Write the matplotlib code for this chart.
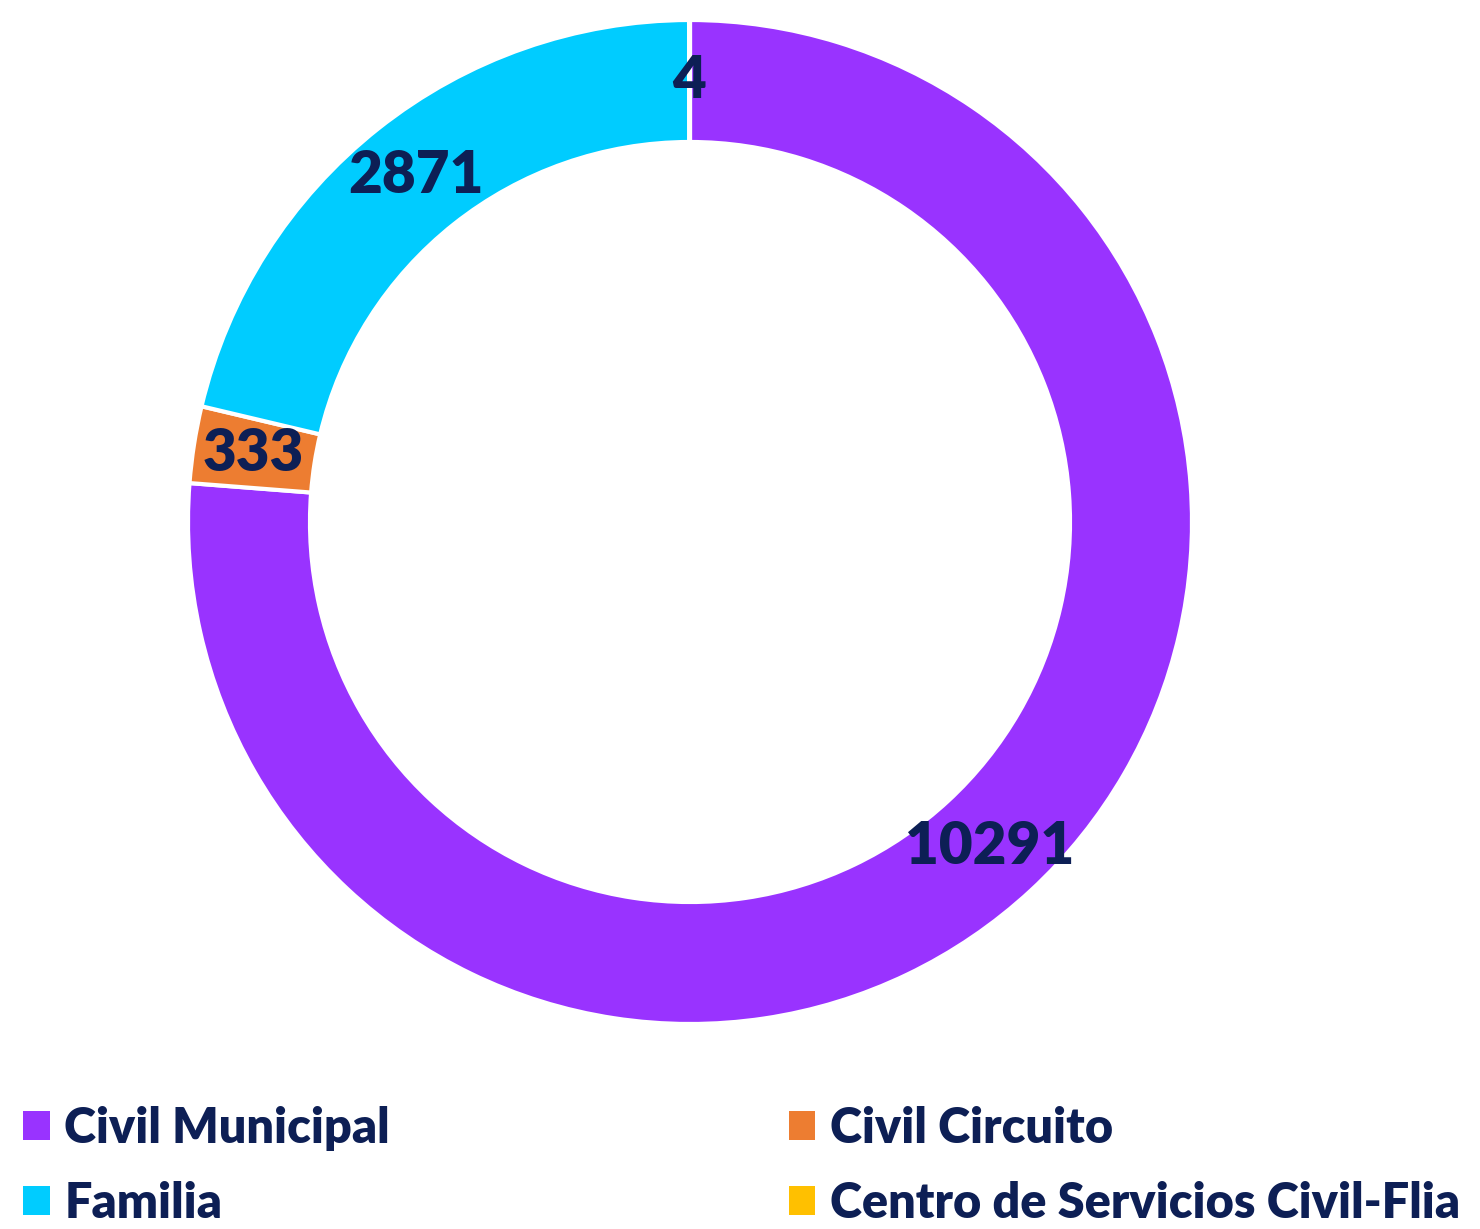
import matplotlib
matplotlib.use('Agg')
import matplotlib.pyplot as plt
import numpy as np
from matplotlib.patches import Patch

categories = ['Civil Municipal', 'Civil Circuito', 'Familia', 'Centro de Servicios Civil-Flia']
values = [10291, 333, 2871, 4]
colors = ['#9933FF', '#ED7D31', '#00CCFF', '#FFC000']
text_color = '#0D1F55'

plt.rcParams['font.family'] = ['Lato', 'DejaVu Sans']

fig = plt.figure(figsize=(14.8, 12.29), dpi=100)
ax = fig.add_axes([188 / 1480, 205 / 1229, 1004 / 1480, 1004 / 1229])

wedges, _ = ax.pie(values, colors=colors, startangle=90, counterclock=False,
                   radius=1, wedgeprops=dict(width=0.243, edgecolor='white', linewidth=3))

# labels in the middle of the ring
for v, w in zip(values, wedges):
    mid = np.deg2rad((w.theta1 + w.theta2) / 2)
    r = 0.88
    ax.text(r * np.cos(mid), r * np.sin(mid), str(v), ha='center', va='center',
            fontsize=42, fontweight='heavy', color=text_color)

ax.set_xlim(-1, 1)
ax.set_ylim(-1, 1)
ax.set_aspect('equal')
ax.axis('off')

# legend fills column-wise, so reorder to get row-wise layout
order = [0, 2, 1, 3]
handles = [Patch(facecolor=colors[i], edgecolor='none') for i in order]
labels = [categories[i] for i in order]
fig.legend(handles, labels, loc='lower left', bbox_to_anchor=(-0.014, -0.033), ncol=2,
           frameon=False, prop={'weight': 'heavy', 'size': 35},
           handlelength=0.55, handleheight=0.55, handletextpad=0.3,
           columnspacing=8.2, labelspacing=0.62, labelcolor=text_color)

fig.savefig('out.png', dpi=100)
